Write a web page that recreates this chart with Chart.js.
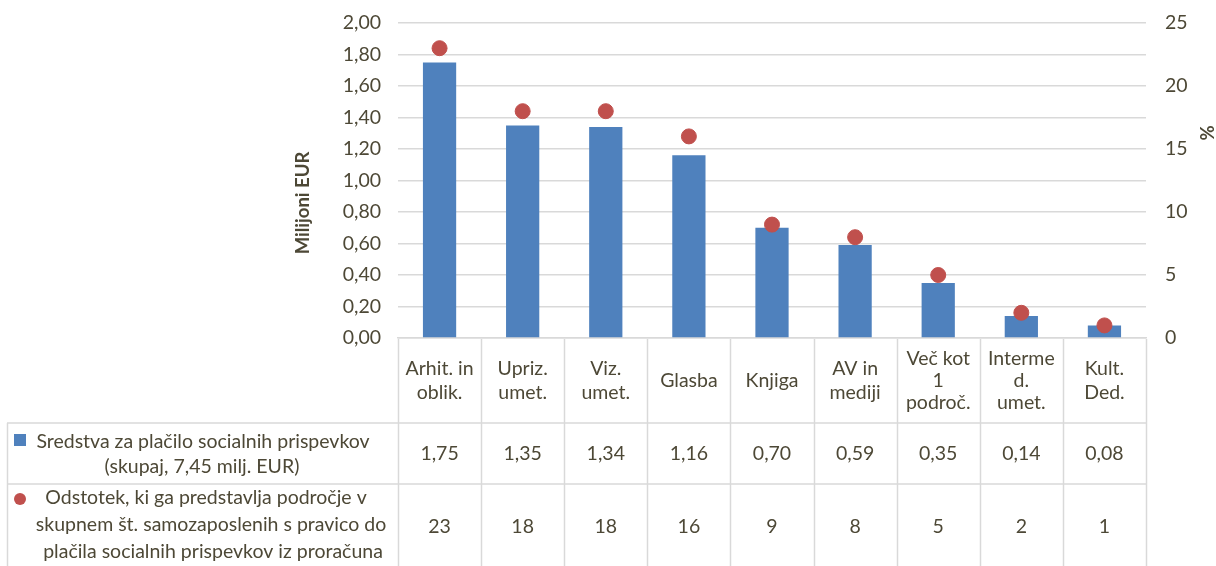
<!DOCTYPE html>
<html>
<head>
<meta charset="utf-8">
<script src="https://cdn.jsdelivr.net/npm/chart.js@4.4.0/dist/chart.umd.min.js"></script>
<style>
  html, body { margin: 0; padding: 0; background: #fff; }
  #wrap { width: 1216px; height: 566px; position: relative; }
</style>
</head>
<body>
<div id="wrap"><canvas id="chart"></canvas></div>
<script>
// Podatki
const categories = [
  ['Arhit. in', 'oblik.'],
  ['Upriz.', 'umet.'],
  ['Viz.', 'umet.'],
  ['Glasba'],
  ['Knjiga'],
  ['AV in', 'mediji'],
  ['Več kot', '1', 'področ.'],
  ['Interme', 'd.', 'umet.'],
  ['Kult.', 'Ded.']
];
const sredstva = [1.75, 1.35, 1.34, 1.16, 0.70, 0.59, 0.35, 0.14, 0.08];
const odstotek = [23, 18, 18, 16, 9, 8, 5, 2, 1];
const seriesNames = [
  ['Sredstva za plačilo socialnih prispevkov', '(skupaj, 7,45 milj. EUR)'],
  ['Odstotek, ki ga predstavlja področje v', 'skupnem št. samozaposlenih s pravico do', 'plačila socialnih prispevkov iz proračuna']
];

const FONT = 'Lato, "Noto Sans", sans-serif';
const FS = 19.5;
const TEXT = '#4d4836';
const GRID = '#d9d9d9';
const BLUE = '#4f81bd';
const RED = '#c0504d';

function fmt(v, dec) {
  return v.toFixed(dec).replace('.', ',');
}

// Tabela s podatki pod grafom in naslova osi
const dataTablePlugin = {
  id: 'dataTable',
  afterDraw(chart) {
    const ctx = chart.ctx;
    const xs = chart.scales.x;
    const area = chart.chartArea;
    const n = categories.length;
    const step = (area.right - area.left) / n;
    const top = area.bottom + 1;
    const row1 = 423, row2 = 484, bottom = 566;
    const tableLeft = 7;

    ctx.save();
    ctx.strokeStyle = GRID;
    ctx.lineWidth = 1.5;
    ctx.beginPath();
    for (let i = 0; i <= n; i++) {
      const x = Math.round(area.left + i * step) + 0.5;
      ctx.moveTo(x, top);
      ctx.lineTo(x, bottom);
    }
    ctx.moveTo(tableLeft, row1); ctx.lineTo(area.right, row1);
    ctx.moveTo(tableLeft, row2); ctx.lineTo(area.right, row2);
    ctx.moveTo(tableLeft + 0.5, row1); ctx.lineTo(tableLeft + 0.5, bottom);
    ctx.stroke();

    ctx.fillStyle = TEXT;
    ctx.font = FS + 'px ' + FONT;
    ctx.textAlign = 'center';
    ctx.textBaseline = 'middle';

    // glava in vrednosti
    categories.forEach((lines, i) => {
      const cx = xs.getPixelForValue(i);
      const lh = lines.length > 2 ? 22 : 24;
      const y0 = (top + row1) / 2 - (lines.length - 1) * lh / 2;
      lines.forEach((t, k) => ctx.fillText(t, cx, y0 + k * lh));
      ctx.fillText(fmt(sredstva[i], 2), cx, (row1 + row2) / 2);
      ctx.fillText(fmt(odstotek[i], 0), cx, 527);
    });

    // legenda v tabeli
    ctx.fillText(seriesNames[0][0], 203, 442);
    ctx.fillText(seriesNames[0][1], 202, 467);
    ctx.fillStyle = BLUE;
    ctx.fillRect(14, 434, 12, 12);

    ctx.fillStyle = TEXT;
    ctx.fillText(seriesNames[1][0], 206, 498);
    ctx.fillText(seriesNames[1][1], 211, 525);
    ctx.fillText(seriesNames[1][2], 213, 552);
    ctx.fillStyle = RED;
    ctx.beginPath();
    ctx.arc(20, 499, 6, 0, Math.PI * 2);
    ctx.fill();

    // naslova osi
    ctx.fillStyle = TEXT;
    ctx.font = 'bold 18.5px ' + FONT;
    ctx.translate(303, 203);
    ctx.rotate(-Math.PI / 2);
    ctx.fillText('Milijoni EUR', 0, 0);
    ctx.setTransform(1, 0, 0, 1, 0, 0);
    ctx.translate(1208, 133);
    ctx.rotate(-Math.PI / 2);
    ctx.fillText('%', 0, 0);
    ctx.restore();
  }
};

// os brez dodatnega odmika zgoraj/spodaj
function fixAxis(width) {
  return function (scale) {
    scale.width = width;
    scale.paddingTop = 0;
    scale.paddingBottom = 0;
  };
}

new Chart(document.getElementById('chart'), {
  data: {
    labels: categories,
    datasets: [
      {
        type: 'line',
        label: seriesNames[1].join(' '),
        data: odstotek,
        yAxisID: 'y1',
        showLine: false,
        pointRadius: 7.5,
        pointHoverRadius: 7.5,
        pointBackgroundColor: RED,
        pointBorderColor: RED,
        order: 0
      },
      {
        type: 'bar',
        label: seriesNames[0].join(' '),
        data: sredstva,
        yAxisID: 'y',
        backgroundColor: BLUE,
        barPercentage: 0.4,
        categoryPercentage: 1.0,
        order: 1
      }
    ]
  },
  options: {
    responsive: true,
    maintainAspectRatio: false,
    animation: false,
    layout: { padding: { left: 292, right: 0, top: 23, bottom: 0 } },
    plugins: {
      legend: { display: false },
      tooltip: { enabled: false }
    },
    scales: {
      x: {
        ticks: { display: false },
        grid: { drawOnChartArea: false, drawTicks: false },
        border: { color: GRID, width: 1.5 },
        afterFit(scale) { scale.height = 228; }
      },
      y: {
        position: 'left',
        min: 0,
        max: 2,
        ticks: {
          stepSize: 0.2,
          padding: 17,
          color: TEXT,
          font: { family: FONT, size: FS },
          callback: v => fmt(v, 2)
        },
        grid: { color: GRID, lineWidth: 1.5, drawTicks: false },
        border: { display: false },
        afterFit: fixAxis(106)
      },
      y1: {
        position: 'right',
        min: 0,
        max: 25,
        ticks: {
          stepSize: 5,
          padding: 19,
          color: TEXT,
          font: { family: FONT, size: FS }
        },
        grid: { drawOnChartArea: false, drawTicks: false },
        border: { display: false },
        afterFit: fixAxis(70)
      }
    }
  },
  plugins: [dataTablePlugin]
});
</script>
</body>
</html>
